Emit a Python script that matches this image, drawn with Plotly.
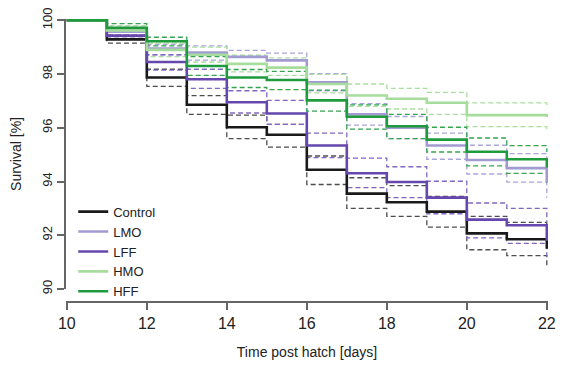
import plotly.graph_objects as go

days = [10, 11, 12, 13, 14, 15, 16, 17, 18, 19, 20, 21, 22]

control = [100, 99.29, 97.87, 96.86, 96.02, 95.74, 94.44, 93.55, 93.23, 92.88, 92.07, 91.85, 91.5]
control_up = [100, 99.45, 98.18, 97.2, 96.47, 96.13, 94.95, 94.14, 93.85, 93.45, 92.7, 92.48, 92.2]
control_lo = [100, 99.15, 97.54, 96.5, 95.6, 95.28, 93.89, 93.0, 92.7, 92.3, 91.46, 91.24, 90.88]

lmo = [100, 99.58, 98.95, 98.8, 98.64, 98.51, 97.69, 96.5, 96.0, 95.34, 94.8, 94.5, 93.98]
lmo_up = [100, 99.75, 99.1, 99.05, 98.88, 98.78, 98.02, 96.9, 96.42, 95.8, 95.35, 95.04, 94.6]
lmo_lo = [100, 99.38, 98.72, 98.52, 98.36, 98.22, 97.38, 96.1, 95.6, 94.83, 94.28, 93.98, 93.4]

lff = [100, 99.43, 98.45, 97.81, 96.95, 96.53, 95.34, 94.31, 93.98, 93.4, 92.58, 92.37, 91.8]
lff_up = [100, 99.6, 98.72, 98.18, 97.38, 97.02, 95.8, 94.87, 94.55, 94.01, 93.2, 93.0, 92.5]
lff_lo = [100, 99.28, 98.15, 97.47, 96.55, 96.13, 94.89, 93.77, 93.4, 92.8, 91.9, 91.7, 91.2]

hmo = [100, 99.62, 98.9, 98.72, 98.38, 98.24, 97.63, 97.2, 97.08, 96.93, 96.47, 96.47, 96.4]
hmo_up = [100, 99.8, 99.15, 99.0, 98.7, 98.6, 97.99, 97.63, 97.47, 97.32, 96.93, 96.93, 96.85]
hmo_lo = [100, 99.42, 98.65, 98.45, 98.08, 97.95, 97.3, 96.8, 96.7, 96.5, 96.04, 96.04, 95.95]

hff = [100, 99.72, 99.22, 98.3, 97.87, 97.78, 97.02, 96.41, 96.06, 95.56, 95.11, 94.83, 94.52]
hff_up = [100, 99.88, 99.37, 98.65, 98.17, 98.1, 97.4, 96.85, 96.5, 96.02, 95.62, 95.34, 95.1]
hff_lo = [100, 99.55, 99.05, 97.95, 97.5, 97.42, 96.62, 95.95, 95.6, 95.1, 94.58, 94.3, 93.95]

groups = [
    ("Control", control, control_up, control_lo, "#1a1a1a", "#4d4d4d"),
    ("LMO", lmo, lmo_up, lmo_lo, "#a29bd2", "#aaa4dc"),
    ("LFF", lff, lff_up, lff_lo, "#6647ad", "#8068c0"),
    ("HMO", hmo, hmo_up, hmo_lo, "#a6dc9c", "#a9dea0"),
    ("HFF", hff, hff_up, hff_lo, "#1f9a3c", "#35a350"),
]

fig = go.Figure()
for name, mean, up, lo, col, ccol in groups:
    for ci in (up, lo):
        fig.add_trace(go.Scatter(
            x=days, y=ci, mode="lines", line=dict(color=ccol, width=1.3, dash="5px,3px", shape="hv"),
            showlegend=False, hoverinfo="skip"))
for name, mean, up, lo, col, ccol in groups:
    fig.add_trace(go.Scatter(
        x=days, y=mean, mode="lines", name=name,
        line=dict(color=col, width=2.6, shape="hv")))

font = "Arial, Liberation Sans, sans-serif"
# the page body has an 8px margin on every side, so the figure is sized to fit inside it
fig.update_layout(
    width=550, height=352,
    margin=dict(l=58, r=10, t=11, b=58),
    plot_bgcolor="white", paper_bgcolor="white",
    font=dict(family=font, color="#222222"),
    xaxis=dict(
        range=[9.98, 22.03], domain=[0, 1], anchor="free", position=0,
        tickvals=[10, 12, 14, 16, 18, 20, 22], automargin=False,
        ticklabeloverflow="allow",
        showline=True, linecolor="#666666", linewidth=1.5,
        ticks="outside", ticklen=7, tickwidth=1.5, tickcolor="#666666",
        tickfont=dict(size=16), showgrid=False, zeroline=False,
        title=dict(text="Time post hatch [days]", font=dict(size=14), standoff=16),
    ),
    yaxis=dict(
        range=[90, 100.05], domain=[0.046, 1], automargin=False,
        tickvals=[90, 92, 94, 96, 98, 100], ticklabeloverflow="allow",
        showline=True, linecolor="#666666", linewidth=1.5,
        ticks="outside", ticklen=7, tickwidth=1.5, tickcolor="#666666",
        tickangle=-90, tickfont=dict(size=13), showgrid=False, zeroline=False,
        title=dict(text="Survival [%]", font=dict(size=14), standoff=34),
    ),
    legend=dict(x=0.015, y=0.372, xanchor="left", yanchor="top",
                bgcolor="rgba(0,0,0,0)", font=dict(size=13), tracegroupgap=0,
                itemwidth=30),
)

fig.write_html("out.html")
